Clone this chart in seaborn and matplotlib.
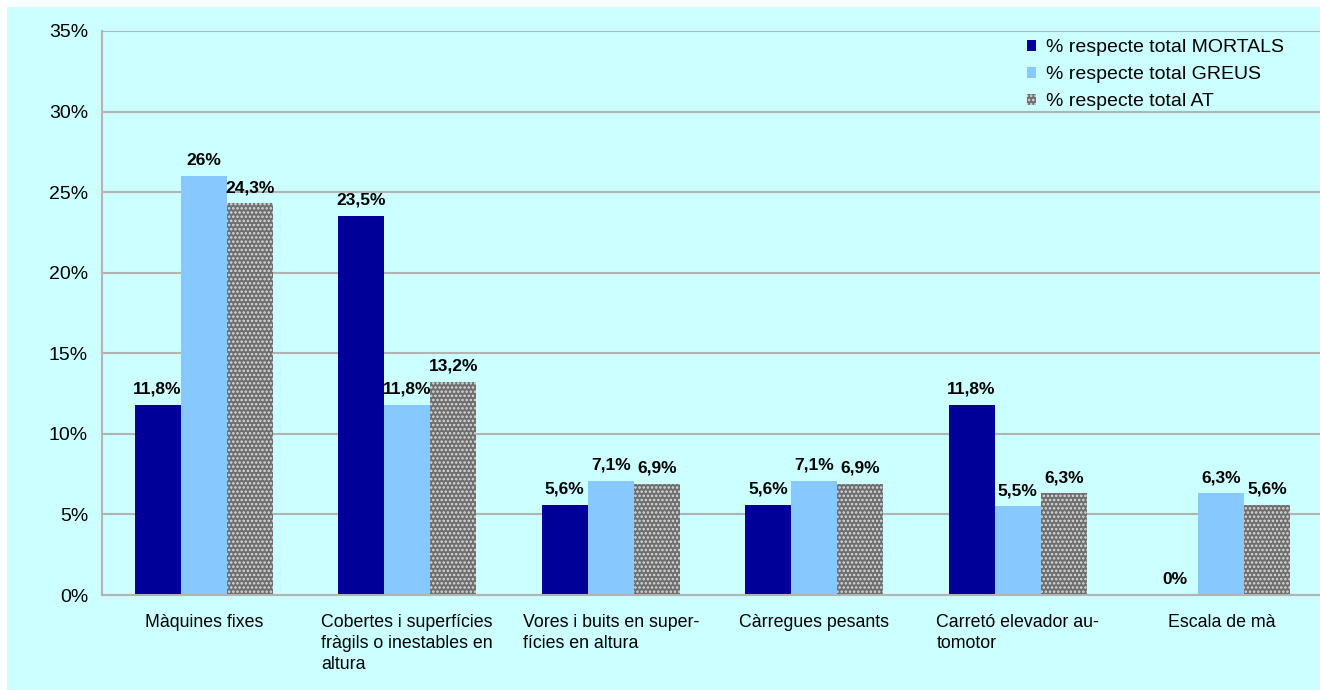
import numpy as np
import pandas as pd
import matplotlib
matplotlib.use('Agg')
import matplotlib.pyplot as plt
import seaborn as sns
from matplotlib.patches import Rectangle

# data
categories = ['Màquines fixes',
              'Cobertes i superfícies\nfràgils o inestables en\naltura',
              'Vores i buits en super-\nfícies en altura',
              'Càrregues pesants',
              'Carretó elevador au-\ntomotor',
              'Escala de mà']
series = ['% respecte total MORTALS', '% respecte total GREUS', '% respecte total AT']
mortals = [11.8, 23.5, 5.6, 5.6, 11.8, 0.0]
greus = [26.0, 11.8, 7.1, 7.1, 5.5, 6.3]
at_total = [24.3, 13.2, 6.9, 6.9, 6.3, 5.6]
colors = ['#000099', '#87c8ff', '#6e6e6e']

df = pd.DataFrame({
    'cat': categories * 3,
    'serie': [series[0]] * 6 + [series[1]] * 6 + [series[2]] * 6,
    'val': mortals + greus + at_total,
})

sns.set_style('white')
plt.rcParams['font.family'] = ['Liberation Sans', 'DejaVu Sans']
plt.rcParams['hatch.linewidth'] = 1.2
plt.rcParams['text.color'] = 'black'
plt.rcParams['xtick.color'] = 'black'
plt.rcParams['ytick.color'] = 'black'

fig = plt.figure(figsize=(13.2, 6.9), dpi=100)
fig.patch.set_facecolor('white')
bg = '#ccffff'
fig.patches.append(Rectangle((7 / 1320, 0), 1, 683 / 690, transform=fig.transFigure,
                             facecolor=bg, edgecolor='none', zorder=-10))

ax = fig.add_axes([102 / 1320, 95 / 690, 1221 / 1320, 564 / 690])
ax.set_facecolor(bg)

sns.barplot(data=df, x='cat', y='val', hue='serie', hue_order=series,
            palette=colors, width=0.68, gap=0, ax=ax, legend=False,
            saturation=1, errorbar=None, edgecolor='none', linewidth=0)

# checkered look for the AT series
for p in ax.containers[2]:
    p.set_hatch('....')
    p.set_edgecolor('#dcdcdc')
    p.set_linewidth(0)


def fmt(v):
    s = f'{v:.1f}'.replace('.', ',')
    if s.endswith(',0'):
        s = s[:-2]
    return s + '%'


for cont, vals in zip(ax.containers, [mortals, greus, at_total]):
    ax.bar_label(cont, labels=[fmt(v) for v in vals], padding=6,
                 fontsize=12.5, fontweight='bold', color='black')

ax.set_ylim(0, 35)
ax.set_yticks(np.arange(0, 36, 5))
ax.set_yticklabels([f'{t}%' for t in range(0, 36, 5)], fontsize=14)
ax.set_xlim(-0.5, 5.5)
ax.set_xlabel('')
ax.set_ylabel('')
ax.tick_params(axis='both', length=0)
ax.tick_params(axis='y', pad=10)
ax.tick_params(axis='x', pad=14)
for lab in ax.get_xticklabels():
    lab.set_fontsize(12.8)
    lab.set_multialignment('left')
    lab.set_verticalalignment('top')
    lab.set_linespacing(1.3)

ax.yaxis.grid(True, color='#b3b3b3', linewidth=1.5)
ax.set_axisbelow(True)
for s in ['top', 'right']:
    ax.spines[s].set_visible(False)
for s in ['left', 'bottom']:
    ax.spines[s].set_color('#b3b3b3')
    ax.spines[s].set_linewidth(1.5)

handles = [ax.containers[i][0] for i in range(3)]
leg = ax.legend(handles, series, loc='upper left',
                bbox_to_anchor=(1009 / 1320, 668 / 690), bbox_transform=fig.transFigure,
                frameon=False, fontsize=14, handlelength=0.5, handleheight=0.5,
                handletextpad=0.5, labelspacing=0.5)

fig.savefig('out.png', dpi=100, facecolor=fig.get_facecolor())
